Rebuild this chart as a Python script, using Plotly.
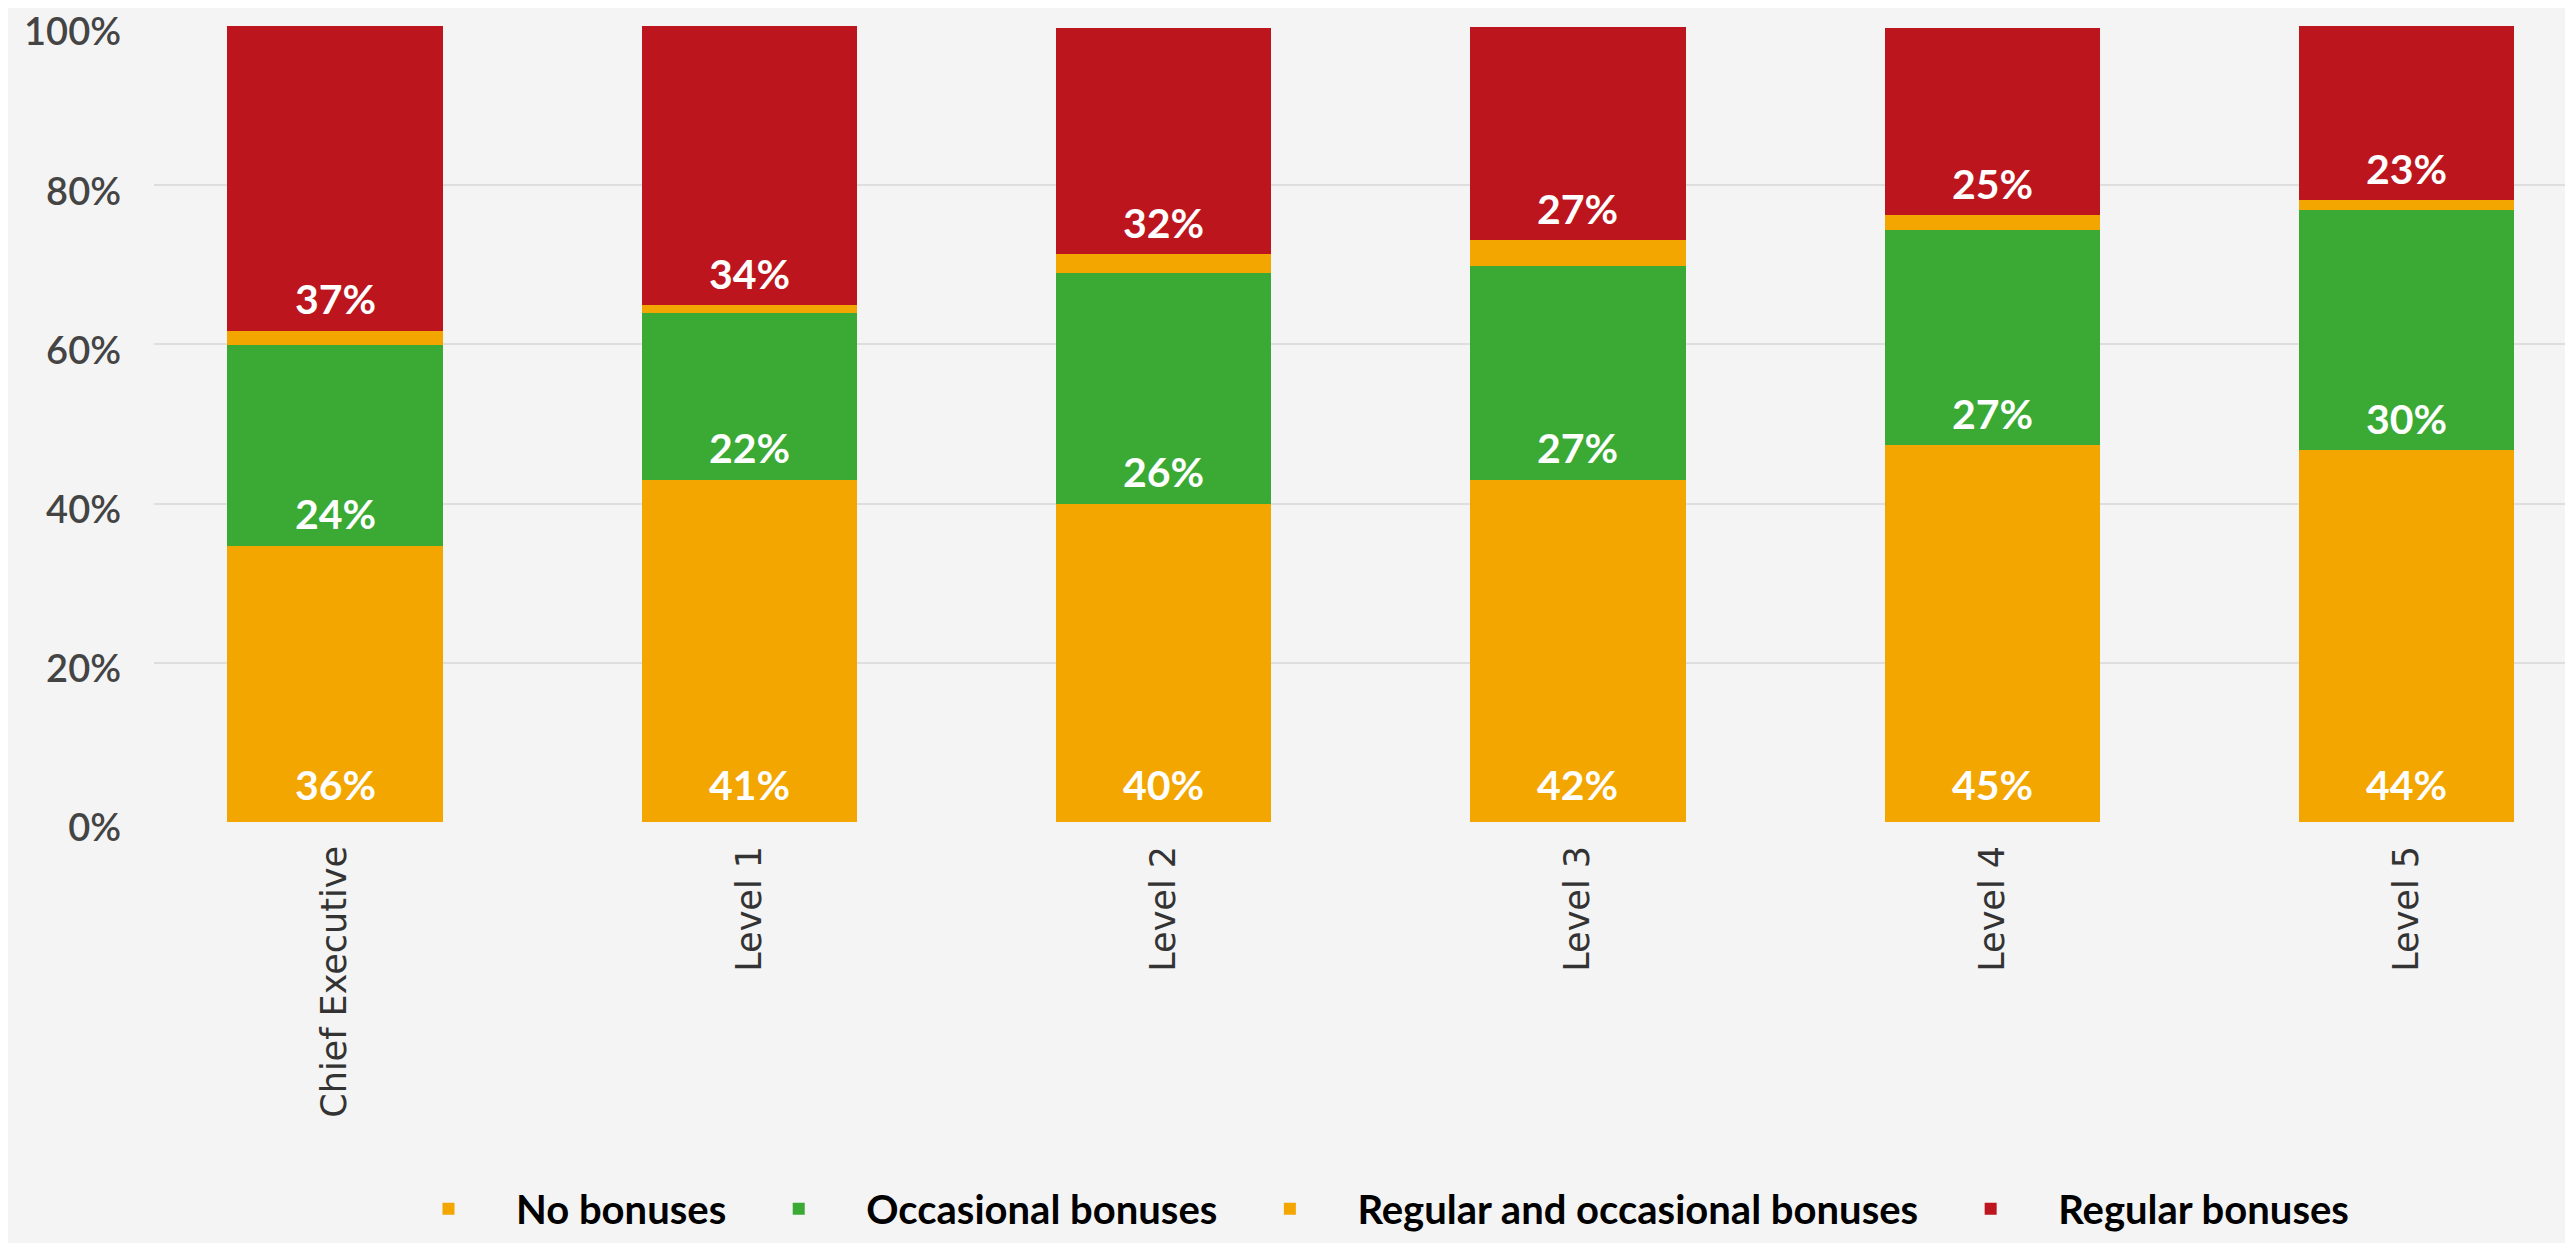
import plotly.graph_objects as go

categories = ["Chief Executive", "Level 1", "Level 2", "Level 3", "Level 4", "Level 5"]

# segment heights (percent of staff) as drawn
no_bonuses = [34.7, 43.0, 40.0, 43.0, 47.3, 46.7]
occasional_bonuses = [25.2, 20.9, 29.0, 26.9, 27.1, 30.2]
regular_and_occasional = [1.8, 1.0, 2.3, 3.2, 1.8, 1.2]
regular_bonuses = [38.3, 35.1, 28.4, 26.8, 23.6, 21.9]

# value labels printed on the bars
label_no = [36, 41, 40, 42, 45, 44]
label_occasional = [24, 22, 26, 27, 27, 30]
label_regular = [37, 34, 32, 27, 25, 23]

y_ticks = [0, 20, 40, 60, 80, 100]

ORANGE = "#F3A600"
GREEN = "#3AAA35"
RED = "#BD151E"
BG = "#F4F4F4"

fig = go.Figure()
series = [
    ("No bonuses", no_bonuses, ORANGE),
    ("Occasional bonuses", occasional_bonuses, GREEN),
    ("Regular and occasional bonuses", regular_and_occasional, ORANGE),
    ("Regular bonuses", regular_bonuses, RED),
]
for name, vals, col in series:
    fig.add_trace(go.Bar(
        x=categories, y=vals, name=name,
        marker=dict(color=col, line=dict(width=0)),
        hoverinfo="skip",
    ))

annotations = []
label_font = dict(family="Lato", size=41, color="white", weight="bold")
for i, cat in enumerate(categories):
    base_green = no_bonuses[i]
    base_red = no_bonuses[i] + occasional_bonuses[i] + regular_and_occasional[i]
    for y0, lab, shift in [
        (0, label_no[i], 38),
        (base_green, label_occasional[i], 32),
        (base_red, label_regular[i], 32),
    ]:
        annotations.append(dict(
            x=cat, y=y0, xref="x", yref="y", text=f"{lab}%",
            showarrow=False, yanchor="middle", xanchor="center",
            yshift=shift, font=label_font,
        ))

fig.update_layout(
    width=2573, height=1243,
    barmode="stack", bargap=0.48,
    paper_bgcolor=BG, plot_bgcolor=BG,
    margin=dict(l=146, r=0, t=18, b=429, pad=0, autoexpand=False),
    annotations=annotations,
    showlegend=True,
    legend=dict(
        orientation="h", x=0.5, xanchor="center", y=-0.486, yanchor="middle",
        font=dict(family="Lato", size=40, color="#000000", weight="bold"),
        itemwidth=125, bgcolor="rgba(0,0,0,0)", traceorder="normal",
        itemclick=False, itemdoubleclick=False,
    ),
    xaxis=dict(
        range=[-0.437, 5.421], tickangle=-90, showgrid=False, zeroline=False,
        showline=False, ticks="", ticklabelstandoff=16, automargin=False,
        tickfont=dict(family="DejaVu Sans", size=35, color="#333333"),
        fixedrange=True,
    ),
    yaxis=dict(
        range=[0, 100], tickvals=y_ticks, ticktext=[f"{v}%" for v in y_ticks],
        showgrid=True, gridcolor="#DEDEDE", gridwidth=2, zeroline=False,
        showline=False, ticks="", ticklabelstandoff=32, ticklabeloverflow="allow",
        ticklabelshift=6, automargin=False,
        tickfont=dict(family="Lato", size=38, color="#444444", weight=600),
        fixedrange=True,
    ),
)

fig.write_html("out.html", config=dict(displayModeBar=False))
